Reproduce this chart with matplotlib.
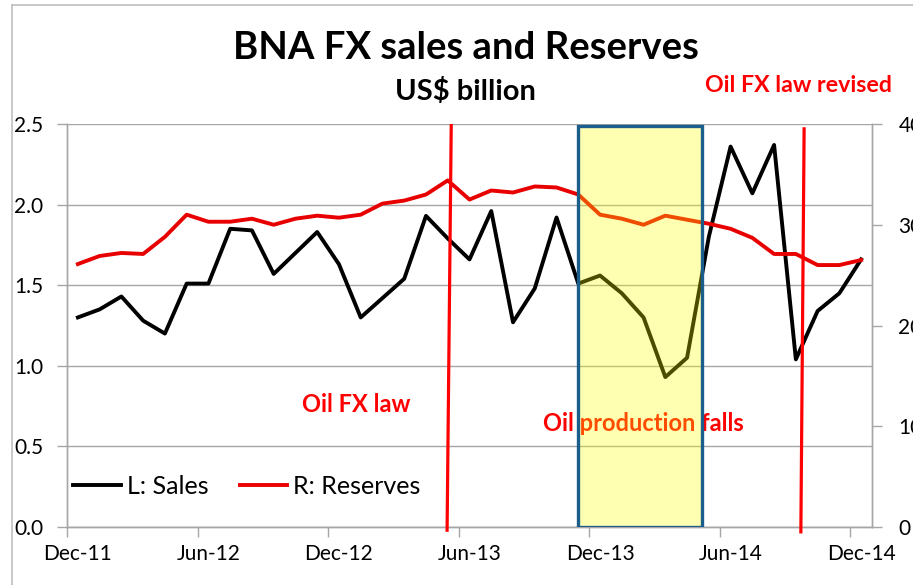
import matplotlib
matplotlib.use("Agg")
import matplotlib.pyplot as plt
from matplotlib.patches import Rectangle
from matplotlib.lines import Line2D
import numpy as np

plt.rcParams['font.family'] = ['Lato', 'DejaVu Sans']

# ---- data ----
months = ["Dec-11", "Jan-12", "Feb-12", "Mar-12", "Apr-12", "May-12", "Jun-12", "Jul-12",
          "Aug-12", "Sep-12", "Oct-12", "Nov-12", "Dec-12", "Jan-13", "Feb-13", "Mar-13",
          "Apr-13", "May-13", "Jun-13", "Jul-13", "Aug-13", "Sep-13", "Oct-13", "Nov-13",
          "Dec-13", "Jan-14", "Feb-14", "Mar-14", "Apr-14", "May-14", "Jun-14", "Jul-14",
          "Aug-14", "Sep-14", "Oct-14", "Nov-14", "Dec-14"]
sales = [1.30, 1.35, 1.43, 1.28, 1.20, 1.51, 1.51, 1.85, 1.84, 1.57, 1.70, 1.83,
         1.63, 1.30, 1.42, 1.54, 1.93, 1.79, 1.66, 1.96, 1.27, 1.48, 1.92, 1.51,
         1.56, 1.45, 1.30, 0.93, 1.05, 1.80, 2.36, 2.07, 2.37, 1.04, 1.34, 1.45, 1.66]
reserves = [26.1, 26.9, 27.2, 27.1, 28.8, 31.0, 30.3, 30.3, 30.6, 30.0, 30.6, 30.9,
            30.7, 31.0, 32.1, 32.4, 33.0, 34.4, 32.5, 33.4, 33.2, 33.8, 33.7, 33.0,
            31.0, 30.6, 30.0, 30.9, 30.5, 30.1, 29.6, 28.7, 27.1, 27.1, 26.0, 26.0, 26.5]
tick_labels = ["Dec-11", "Jun-12", "Dec-12", "Jun-13", "Dec-13", "Jun-14", "Dec-14"]
left_ticks = [0.0, 0.5, 1.0, 1.5, 2.0, 2.5]
right_ticks = [0, 10, 20, 30, 40]

# event markers (x in month index, y on left axis)
event1_x = (17.16, 16.97)
event1_y = (2.49, -0.02)
event2_x = (33.38, 33.23)
event2_y = (2.47, -0.03)
shade_x = (23.0, 28.68)
shade_y = (0.0, 2.49)

x = np.arange(len(months))

fig = plt.figure(figsize=(9.13, 5.85), dpi=100)
ax = fig.add_axes([67/913, 58/585, (872-67)/913, (527-124)/585])
ax2 = ax.twinx()

grid_c = '#A6A6A6'
ax.set_xlim(-0.5, len(months) - 0.5)
ax.set_ylim(0, 2.5)
ax2.set_ylim(0, 40)
ax.set_yticks(left_ticks)
ax.set_yticklabels([f"{v:.1f}" for v in left_ticks])
ax2.set_yticks(right_ticks)
ax2.set_yticklabels([str(v) for v in right_ticks])
ax.yaxis.grid(True, color=grid_c, lw=1.0)
ax.set_axisbelow(True)

major = [months.index(m) for m in tick_labels]
ax.set_xticks(major)
ax.set_xticklabels(tick_labels)
ax.set_xticks([m - 0.5 for m in major], minor=True)
ax.tick_params(axis='x', which='major', length=0, pad=12, labelsize=15, colors='black')
ax.tick_params(axis='x', which='minor', length=7, color=grid_c, width=1)
ax.tick_params(axis='y', length=7, color=grid_c, width=1, pad=10, labelsize=15)
ax2.tick_params(axis='y', length=7, color=grid_c, width=1, pad=12, labelsize=15)

for a in (ax, ax2):
    for s in a.spines.values():
        s.set_color(grid_c)
        s.set_linewidth(1.0)
    a.spines['top'].set_visible(False)

ax.plot(x, sales, color='black', lw=2.8, zorder=3)
ax2.plot(x, reserves, color='#E80000', lw=2.8, zorder=3)

# text under shading
ax2.text(25.98, 0.645 * 16, "Oil production falls", color='red', fontsize=17,
         fontweight='bold', ha='center', va='center', zorder=2)
ax.text(12.79, 0.763, "Oil FX law", color='red', fontsize=17, fontweight='bold',
        ha='center', va='center')
ax.text(33.1, 2.736, "Oil FX law revised", color='red', fontsize=16.7, fontweight='bold',
        ha='center', va='center', clip_on=False)

# shaded period (drawn on top of lines, translucent)
ax2.add_patch(Rectangle((shade_x[0], shade_y[0] * 16), shade_x[1] - shade_x[0],
                        (shade_y[1] - shade_y[0]) * 16, facecolor='#FFFF00', alpha=0.3,
                        edgecolor='none', zorder=5))
ax2.add_patch(Rectangle((shade_x[0], shade_y[0] * 16), shade_x[1] - shade_x[0],
                        (shade_y[1] - shade_y[0]) * 16, facecolor='none',
                        edgecolor='#1B5E8C', lw=2.4, zorder=6))

# event lines
ax2.plot(event1_x, [v * 16 for v in event1_y], color='#FF0000', lw=2.3, zorder=7, clip_on=False)
ax2.plot(event2_x, [v * 16 for v in event2_y], color='#FF0000', lw=2.3, zorder=7, clip_on=False)

handles = [Line2D([], [], color='black', lw=2.8), Line2D([], [], color='#E80000', lw=2.8)]
ax2.legend(handles, ["L: Sales", "R: Reserves"], loc='center left', ncol=2, frameon=False,
           fontsize=18, handlelength=1.9, handletextpad=0.25, columnspacing=1.25,
           borderpad=0, borderaxespad=0, bbox_to_anchor=(6/805, 41/403))

fig.text(0.510, 0.918, "BNA FX sales and Reserves", ha='center', va='center',
         fontsize=27.5, fontweight='bold')
fig.text(0.510, 0.843, "US$ billion", ha='center', va='center', fontsize=21, fontweight='bold')

# chart border
fig.add_artist(Line2D([12/913, 12/913], [0, 1 - 5/585], color='#BFBFBF', lw=1.2,
                      transform=fig.transFigure))
fig.add_artist(Line2D([12/913, 1], [1 - 5/585, 1 - 5/585], color='#BFBFBF', lw=1.2,
                      transform=fig.transFigure))

fig.savefig("out.png", dpi=100)
